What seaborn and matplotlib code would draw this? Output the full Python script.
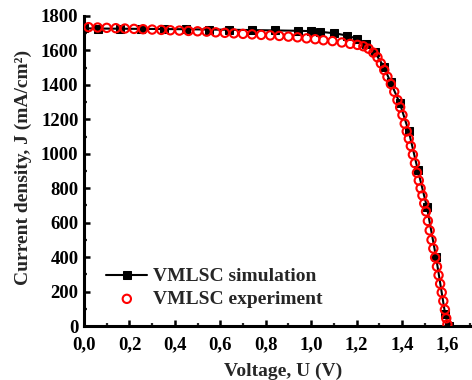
import matplotlib
matplotlib.use("Agg")
import matplotlib.pyplot as plt
import seaborn as sns
import pandas as pd
from matplotlib.ticker import MultipleLocator, FuncFormatter

# Simulation (black squares + line)
sim_v = [0.00, 0.06, 0.16, 0.25, 0.35, 0.45, 0.55, 0.64, 0.74, 0.84, 0.94, 1.00,
         1.04, 1.10, 1.16, 1.20, 1.24, 1.28, 1.32, 1.35, 1.39, 1.43, 1.47, 1.51,
         1.55, 1.59, 1.605]
sim_j = [1728, 1727, 1726, 1725, 1724, 1723, 1721, 1720, 1718, 1716, 1714, 1712,
         1708, 1700, 1686, 1668, 1640, 1590, 1505, 1415, 1295, 1130, 905, 690,
         400, 70, 0]

# Experiment (red open circles)
exp_v = [0.02, 0.06, 0.10, 0.14, 0.18, 0.22, 0.26, 0.30, 0.34, 0.38, 0.42, 0.46,
         0.50, 0.54, 0.58, 0.62, 0.66, 0.70, 0.74, 0.78, 0.82, 0.86, 0.90, 0.94,
         0.98, 1.018, 1.054, 1.094, 1.135, 1.172, 1.204, 1.230, 1.253, 1.274,
         1.292, 1.307, 1.322, 1.336, 1.351, 1.366, 1.380, 1.392, 1.402, 1.412,
         1.421, 1.430, 1.439, 1.448, 1.457, 1.466, 1.474, 1.482, 1.490, 1.498,
         1.506, 1.514, 1.522, 1.530, 1.538, 1.546, 1.554, 1.561, 1.568, 1.575,
         1.582, 1.589, 1.595, 1.600]
exp_j = [1735, 1733, 1731, 1729, 1727, 1725, 1723, 1721, 1719, 1717, 1715, 1713,
         1711, 1709, 1705, 1702, 1699, 1696, 1693, 1690, 1687, 1684, 1680, 1676,
         1670, 1665, 1659, 1654, 1646, 1638, 1632, 1624, 1610, 1587,
         1560, 1525, 1486, 1447, 1405, 1360, 1312, 1270, 1225, 1175,
         1130, 1088, 1045, 995, 945, 890, 845, 800, 758, 712,
         665, 610, 555, 500, 450, 398, 345, 295, 245, 195,
         145, 95, 45, 10]

x_ticks = [0.0, 0.2, 0.4, 0.6, 0.8, 1.0, 1.2, 1.4, 1.6]
y_ticks = [0, 200, 400, 600, 800, 1000, 1200, 1400, 1600, 1800]

sns.set_style("white")
plt.rcParams['font.family'] = ['Liberation Serif', 'DejaVu Serif']
plt.rcParams['font.weight'] = 'bold'

fig = plt.figure(figsize=(4.72, 3.80), dpi=100)
ax = fig.add_axes([0.178, 0.142, 0.818, 0.816])

sim_df = pd.DataFrame({"V": sim_v, "J": sim_j})
exp_df = pd.DataFrame({"V": exp_v, "J": exp_j})

sns.lineplot(data=sim_df, x="V", y="J", ax=ax, color="black", linewidth=1.5,
             marker="s", markersize=5.5, markeredgecolor="black",
             sort=False, label="VMLSC simulation", zorder=2)
sns.scatterplot(data=exp_df, x="V", y="J", ax=ax, facecolor="none",
                edgecolor="#ff0000", linewidth=1.5, s=36, marker="o",
                label="VMLSC experiment", zorder=3)

ax.set_xlim(0, 1.70)
ax.set_ylim(0, 1800)
ax.set_xticks(x_ticks)
ax.set_yticks(y_ticks)
ax.xaxis.set_major_formatter(FuncFormatter(lambda v, p: f"{v:.1f}".replace('.', ',')))
ax.yaxis.set_major_formatter(FuncFormatter(lambda v, p: f"{int(round(v))}"))
ax.xaxis.set_minor_locator(MultipleLocator(0.1))
ax.yaxis.set_minor_locator(MultipleLocator(100))

for side in ["top", "right"]:
    ax.spines[side].set_visible(False)
for side in ["left", "bottom"]:
    ax.spines[side].set_linewidth(2.2)
    ax.spines[side].set_color("black")

ax.tick_params(which="major", direction="in", length=4.0, width=1.8,
               labelsize=13.5, left=True, bottom=True, colors="black")
ax.tick_params(axis="x", which="major", pad=7.5)
ax.tick_params(axis="y", which="major", pad=4)
ax.tick_params(which="minor", direction="in", length=2.2, width=1.6,
               left=True, bottom=True)
for lbl in ax.get_xticklabels() + ax.get_yticklabels():
    lbl.set_fontweight("bold")

ax.set_xlabel("Voltage, U (V)", fontsize=14, fontweight="bold")
ax.set_ylabel("Current density, J (mA/cm²)", fontsize=14, fontweight="bold")
ax.xaxis.label.set_va("center")
ax.yaxis.label.set_va("center")
ax.xaxis.set_label_coords(0.515, -0.145)
ax.yaxis.set_label_coords(-0.158, 0.51)

leg = ax.legend(loc="center left", bbox_to_anchor=(0.058, 0.123), frameon=False,
                fontsize=14, handlelength=2.1, handletextpad=0.3,
                labelspacing=0.25, borderaxespad=0, borderpad=0)
for t in leg.get_texts():
    t.set_fontweight("bold")

fig.savefig("out.png", dpi=100)
